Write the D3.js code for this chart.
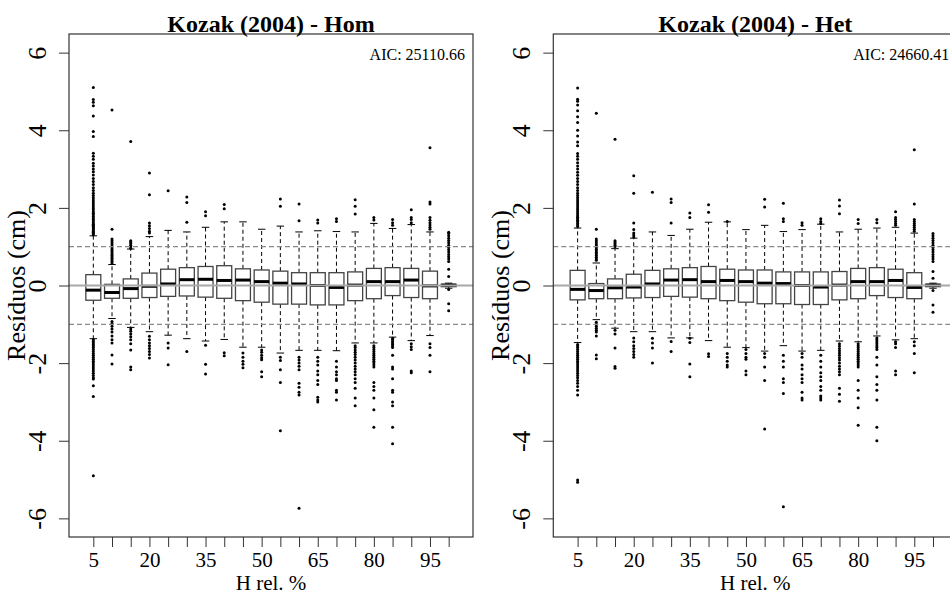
<!DOCTYPE html>
<html>
<head>
<meta charset="utf-8">
<script src="https://cdn.jsdelivr.net/npm/d3@7"></script>
<style>
  html, body { margin: 0; padding: 0; background: #fff; }
  svg { display: block; }
  svg text { font-family: "Liberation Serif", "Times New Roman", serif !important; fill: #000; }
</style>
</head>
<body>
<svg id="chart" width="950" height="595"></svg>
<script>
// ---------- DATA ----------
const categories = [5, 10, 15, 20, 25, 30, 35, 40, 45, 50, 55, 60, 65, 70, 75, 80, 85, 90, 95, 100];
const xTickLabels = [5, 20, 35, 50, 65, 80, 95];
const yTicks = [-6, -4, -2, 0, 2, 4, 6];
const titles = ["Kozak (2004) - Hom", "Kozak (2004) - Het"];
const aicLabels = ["AIC: 25110.66", "AIC: 24660.41"];
const refLines = [-1, 1];

// Homoscedastic model
const homQ1  = [-0.38, -0.33, -0.33, -0.31, -0.28, -0.27, -0.30, -0.33, -0.39, -0.43, -0.48, -0.48, -0.50, -0.50, -0.39, -0.34, -0.26, -0.31, -0.34, -0.03];
const homMed = [-0.12, -0.18, -0.08, -0.02, 0.04, 0.15, 0.16, 0.13, 0.14, 0.10, 0.06, 0.04, 0.00, -0.05, 0.01, 0.10, 0.10, 0.14, -0.01, 0.01];
const homQ3  = [0.28, 0.03, 0.17, 0.32, 0.42, 0.46, 0.49, 0.51, 0.43, 0.40, 0.37, 0.33, 0.33, 0.33, 0.35, 0.44, 0.46, 0.44, 0.37, 0.03];
const homLo  = [-1.37, -0.85, -1.08, -1.19, -1.28, -1.37, -1.43, -1.39, -1.59, -1.59, -1.74, -1.67, -1.67, -1.68, -1.48, -1.48, -1.33, -1.42, -1.29, -0.07];
const homHi  = [1.28, 0.54, 0.94, 1.26, 1.42, 1.38, 1.50, 1.64, 1.64, 1.45, 1.53, 1.38, 1.41, 1.39, 1.38, 1.60, 1.47, 1.57, 1.38, 0.06];
const homOut = [
  [1.31,1.34,1.37,1.40,1.43,1.46,1.49,1.52,1.55,1.58,1.62,1.66,1.70,1.74,1.78,1.82,1.86,1.90,1.95,2.00,2.05,2.10,2.15,2.20,2.26,2.32,2.38,2.45,2.52,2.60,2.68,2.76,2.85,2.93,3.00,3.08,3.15,3.25,3.33,3.41,3.84,3.97,4.37,4.63,4.72,4.79,5.10,
   -1.40,-1.44,-1.48,-1.52,-1.56,-1.60,-1.65,-1.70,-1.75,-1.80,-1.85,-1.90,-1.95,-2.00,-2.05,-2.10,-2.15,-2.20,-2.26,-2.32,-2.38,-2.41,-2.58,-2.86,-4.90],
  [0.58,0.62,0.66,0.70,0.74,0.78,0.82,0.86,0.90,0.95,1.00,1.05,1.10,1.15,1.20,1.45,4.52,
   -0.93,-0.98,-1.05,-1.12,-1.20,-1.30,-1.40,-1.48,-1.79,-2.02],
  [0.96,1.00,1.04,1.08,1.12,1.15,3.71, -1.12,-1.18,-1.25,-1.32,-1.40,-1.50,-1.66,-2.10,-2.17],
  [1.35,1.40,1.47,1.54,1.61,2.34,2.90, -1.31,-1.40,-1.48,-1.55,-1.62,-1.70,-1.78,-1.87],
  [2.44, -1.48,-1.61,-2.04],
  [1.63,2.14,2.28, -1.70],
  [1.80,1.90, -1.54,-2.03,-2.28],
  [1.98,2.09, -1.73,-1.81],
  [-1.74,-1.85,-1.95,-2.03,-2.12],
  [-1.66,-1.72,-1.80,-1.86,-1.91,-2.22,-2.35],
  [2.04,2.23, -1.85,-1.93,-2.17,-2.50,-3.74],
  [1.67,2.10, -1.85,-1.92,-2.00,-2.08,-2.17,-2.52,-2.62,-2.75,-2.82,-5.74],
  [1.61,1.69, -1.85,-1.95,-2.05,-2.20,-2.30,-2.45,-2.55,-2.88,-2.95,-3.00],
  [1.65,1.72, -1.95,-2.10,-2.22,-2.30,-2.40,-2.45,-2.70,-2.75,-2.95],
  [1.84,2.04,2.21, -1.55,-1.60,-1.66,-1.72,-1.78,-1.85,-1.92,-2.00,-2.08,-2.15,-2.22,-2.30,-2.40,-2.50,-2.65,-2.90,-3.10],
  [1.69,1.75, -1.55,-1.60,-1.65,-1.70,-1.75,-1.80,-1.85,-1.90,-1.95,-2.00,-2.05,-2.10,-2.50,-2.60,-2.70,-2.90,-3.20,-3.65],
  [1.55,1.62,1.70, -1.36,-1.40,-1.44,-1.48,-1.52,-1.56,-1.60,-1.80,-2.10,-2.15,-2.40,-2.70,-2.75,-3.00,-3.10,-3.65,-4.08],
  [1.62,1.70,1.75,1.95, -1.50,-1.58,-1.65,-2.20,-2.25],
  [1.45,1.50,1.56,1.62,1.68,1.75,2.10,2.15,3.55, -1.50,-1.60,-1.80,-2.22],
  [0.62,0.68,0.74,0.80,0.86,0.92,0.98,1.04,1.10,1.16,1.22,1.28,1.34,1.37,0.42,0.23, -0.10,-0.47,-0.65]
];

// Heteroscedastic model
const hetQ1  = [-0.37, -0.34, -0.34, -0.32, -0.31, -0.28, -0.30, -0.34, -0.39, -0.43, -0.47, -0.47, -0.49, -0.49, -0.37, -0.34, -0.26, -0.31, -0.34, -0.03];
const hetMed = [-0.10, -0.13, -0.06, -0.04, 0.04, 0.14, 0.15, 0.10, 0.13, 0.10, 0.06, 0.05, 0.00, -0.04, 0.01, 0.10, 0.10, 0.13, -0.05, 0.01];
const hetQ3  = [0.39, 0.05, 0.17, 0.29, 0.39, 0.43, 0.46, 0.49, 0.42, 0.40, 0.40, 0.35, 0.35, 0.35, 0.36, 0.44, 0.46, 0.42, 0.33, 0.03];
const hetLo  = [-1.47, -0.88, -1.10, -1.19, -1.19, -1.35, -1.35, -1.42, -1.59, -1.60, -1.69, -1.55, -1.69, -1.67, -1.43, -1.45, -1.30, -1.40, -1.37, -0.07];
const hetHi  = [1.48, 0.58, 0.95, 1.22, 1.38, 1.29, 1.45, 1.63, 1.64, 1.44, 1.55, 1.39, 1.44, 1.58, 1.38, 1.45, 1.48, 1.50, 1.35, 0.06];
const hetOut = [
  [1.52,1.56,1.60,1.64,1.68,1.72,1.76,1.80,1.85,1.90,1.95,2.00,2.05,2.10,2.15,2.20,2.26,2.32,2.38,2.45,2.52,2.60,2.68,2.76,2.84,2.92,3.00,3.08,3.16,3.25,3.33,3.40,3.60,3.70,3.85,4.00,4.20,4.35,4.50,4.65,4.75,4.80,5.09,
   -1.52,-1.56,-1.60,-1.65,-1.70,-1.75,-1.80,-1.85,-1.90,-1.95,-2.00,-2.05,-2.10,-2.15,-2.20,-2.26,-2.32,-2.38,-2.45,-2.52,-2.60,-2.70,-2.82,-5.01,-5.07],
  [0.65,0.69,0.73,0.77,0.81,0.85,0.89,0.93,0.97,1.01,1.05,1.10,1.15,1.20,1.45,4.44,
   -0.95,-1.00,-1.05,-1.10,-1.15,-1.20,-1.30,-1.79,-1.89],
  [1.00,1.04,1.08,1.12,1.15,3.77, -1.15,-1.25,-1.61,-2.09,-2.13],
  [1.25,1.30,1.35,1.44,1.61,2.38,2.83, -1.35,-1.45,-1.55,-1.62,-1.70,-1.78,-1.85],
  [2.40, -1.36,-1.48,-1.61,-2.00],
  [1.61,2.14,2.23, -1.44,-1.70],
  [1.75,1.87, -1.36,-1.47,-2.02,-2.35],
  [1.89,2.08, -1.76,-1.83],
  [1.65, -1.75,-1.85,-1.95,-2.05,-2.10],
  [-1.65,-1.75,-1.85,-1.90,-2.20,-2.30],
  [2.02,2.22, -1.75,-1.85,-2.10,-2.45,-3.70],
  [1.65,1.72,2.12, -1.80,-1.95,-2.10,-2.40,-2.50,-2.78,-5.70],
  [1.55,1.62, -1.75,-1.85,-2.05,-2.15,-2.30,-2.40,-2.50,-2.75,-2.90,-2.95],
  [1.60,1.65,1.72, -1.80,-1.95,-2.10,-2.25,-2.35,-2.45,-2.60,-2.70,-2.85,-2.90,-2.95],
  [1.85,2.05,2.20, -1.50,-1.56,-1.62,-1.68,-1.74,-1.80,-1.86,-1.92,-2.00,-2.08,-2.15,-2.22,-2.30,-2.65,-2.80,-2.98],
  [1.60,1.70, -1.50,-1.55,-1.60,-1.65,-1.70,-1.75,-1.80,-1.85,-1.90,-1.95,-2.00,-2.05,-2.10,-2.45,-2.70,-2.90,-3.15,-3.60],
  [1.62,1.70, -1.35,-1.40,-1.45,-1.50,-1.55,-1.60,-1.65,-1.85,-2.05,-2.35,-2.55,-2.70,-2.95,-3.65,-4.00],
  [1.55,1.60,1.65,1.70,1.75,1.90, -1.45,-1.50,-1.60,-2.20,-2.30],
  [1.40,1.45,1.50,1.55,1.60,1.65,1.70,2.10,3.50, -1.45,-1.55,-1.75,-2.25],
  [0.62,0.68,0.74,0.80,0.86,0.92,0.98,1.04,1.10,1.16,1.22,1.28,1.34,0.36,0.19, -0.13,-0.50,-0.69]
];

// ---------- DRAWING ----------
const svg = d3.select("#chart");
const SERIF = '"Liberation Serif", "Times New Roman", serif';
const panels = [
  { left: 69,    q1: homQ1, med: homMed, q3: homQ3, lo: homLo, hi: homHi, out: homOut },
  { left: 553.3, q1: hetQ1, med: hetMed, q3: hetQ3, lo: hetLo, hi: hetHi, out: hetOut }
];
const plotW = 404, plotTop = 34, plotBottom = 537;

panels.forEach((p, pi) => {
  const x0 = p.left, x1 = p.left + plotW;
  const n = categories.length;
  const x = d3.scaleLinear().domain([1 - 1.3, n + 1.3]).range([x0, x1]);
  const y = d3.scaleLinear().domain([-6.48, 6.48]).range([plotBottom, plotTop]);
  const g = svg.append("g");
  const unit = x(2) - x(1);
  const halfBox = 0.4 * unit, halfStaple = 0.2 * unit;

  const data = categories.map((c, i) => ({
    i: i + 1, q1: p.q1[i], med: p.med[i], q3: p.q3[i], lo: p.lo[i], hi: p.hi[i], out: p.out[i]
  }));

  const bx = g.selectAll("g.box").data(data).enter().append("g").attr("class", "box");
  // whiskers (dashed)
  bx.append("line")
    .attr("x1", d => x(d.i)).attr("x2", d => x(d.i))
    .attr("y1", d => y(d.q3)).attr("y2", d => y(d.hi))
    .attr("stroke", "#000").attr("stroke-width", 1).attr("stroke-dasharray", "4,3");
  bx.append("line")
    .attr("x1", d => x(d.i)).attr("x2", d => x(d.i))
    .attr("y1", d => y(d.q1)).attr("y2", d => y(d.lo))
    .attr("stroke", "#000").attr("stroke-width", 1).attr("stroke-dasharray", "4,3");
  // staples
  ["hi", "lo"].forEach(k => {
    bx.append("line")
      .attr("x1", d => x(d.i) - halfStaple).attr("x2", d => x(d.i) + halfStaple)
      .attr("y1", d => y(d[k])).attr("y2", d => y(d[k]))
      .attr("stroke", "#000").attr("stroke-width", 1);
  });
  // box
  bx.append("rect")
    .attr("x", d => x(d.i) - halfBox).attr("width", 2 * halfBox)
    .attr("y", d => y(d.q3)).attr("height", d => y(d.q1) - y(d.q3))
    .attr("fill", "#fff").attr("stroke", "#444").attr("stroke-width", 1.3);
  // median
  bx.append("line")
    .attr("x1", d => x(d.i) - halfBox).attr("x2", d => x(d.i) + halfBox)
    .attr("y1", d => y(d.med)).attr("y2", d => y(d.med))
    .attr("stroke", "#000").attr("stroke-width", 3);
  // outliers
  bx.selectAll("circle").data(d => d.out.map(v => ({ i: d.i, v }))).enter().append("circle")
    .attr("cx", d => x(d.i)).attr("cy", d => y(d.v)).attr("r", 1.5).attr("fill", "#000");

  // reference lines
  g.append("line").attr("x1", x0).attr("x2", x1).attr("y1", y(0)).attr("y2", y(0))
    .attr("stroke", "#a8a8a8").attr("stroke-width", 2);
  refLines.forEach(v => {
    g.append("line").attr("x1", x0).attr("x2", x1).attr("y1", y(v)).attr("y2", y(v))
      .attr("stroke", "#8a8a8a").attr("stroke-width", 1.2).attr("stroke-dasharray", "5,3");
  });

  // frame
  g.append("rect").attr("x", x0).attr("y", plotTop).attr("width", plotW).attr("height", plotBottom - plotTop)
    .attr("fill", "none").attr("stroke", "#333").attr("stroke-width", 1.2);

  // x axis
  const xAxis = d3.axisBottom(x)
    .tickValues(d3.range(1, n + 1))
    .tickSize(10).tickPadding(4)
    .tickFormat(i => xTickLabels.includes(categories[i - 1]) ? String(categories[i - 1]) : "");
  const xa = g.append("g").attr("transform", `translate(0,${plotBottom})`).call(xAxis);
  xa.attr("font-family", null);
  xa.select(".domain").remove();
  xa.selectAll(".tick line").attr("stroke", "#333");
  xa.selectAll(".tick text")
    .style("font-family", SERIF).style("font-size", "21px")
    .attr("dy", null).attr("y", 30);

  // y axis
  const yAxis = d3.axisLeft(y).tickValues(yTicks).tickSize(10).tickFormat(d => String(d));
  const ya = g.append("g").attr("transform", `translate(${x0},0)`).call(yAxis);
  ya.attr("font-family", null);
  ya.select(".domain").remove();
  ya.selectAll(".tick line").attr("stroke", "#333");
  ya.selectAll(".tick text")
    .style("font-family", SERIF).style("font-size", "26px")
    .attr("x", null).attr("dy", null)
    .attr("text-anchor", "middle")
    .attr("transform", "translate(-23,0) rotate(-90)");

  // axis titles
  g.append("text").attr("x", (x0 + x1) / 2).attr("y", 590.3)
    .attr("text-anchor", "middle").style("font-family", SERIF).style("font-size", "21px").text("H rel. %");
  g.append("text")
    .attr("transform", `translate(${x0 - 44},${(plotTop + plotBottom) / 2}) rotate(-90)`)
    .attr("text-anchor", "middle").style("font-family", SERIF).style("font-size", "26px").text("Resíduos (cm)");

  // title
  g.append("text").attr("x", (x0 + x1) / 2).attr("y", 32)
    .attr("text-anchor", "middle").style("font-family", SERIF).style("font-size", "24px")
    .attr("font-weight", "bold").text(titles[pi]);
  // AIC
  g.append("text").attr("x", x1 - 8).attr("y", 60)
    .attr("text-anchor", "end").style("font-family", SERIF).style("font-size", "16px").text(aicLabels[pi]);
});
</script>
</body>
</html>
